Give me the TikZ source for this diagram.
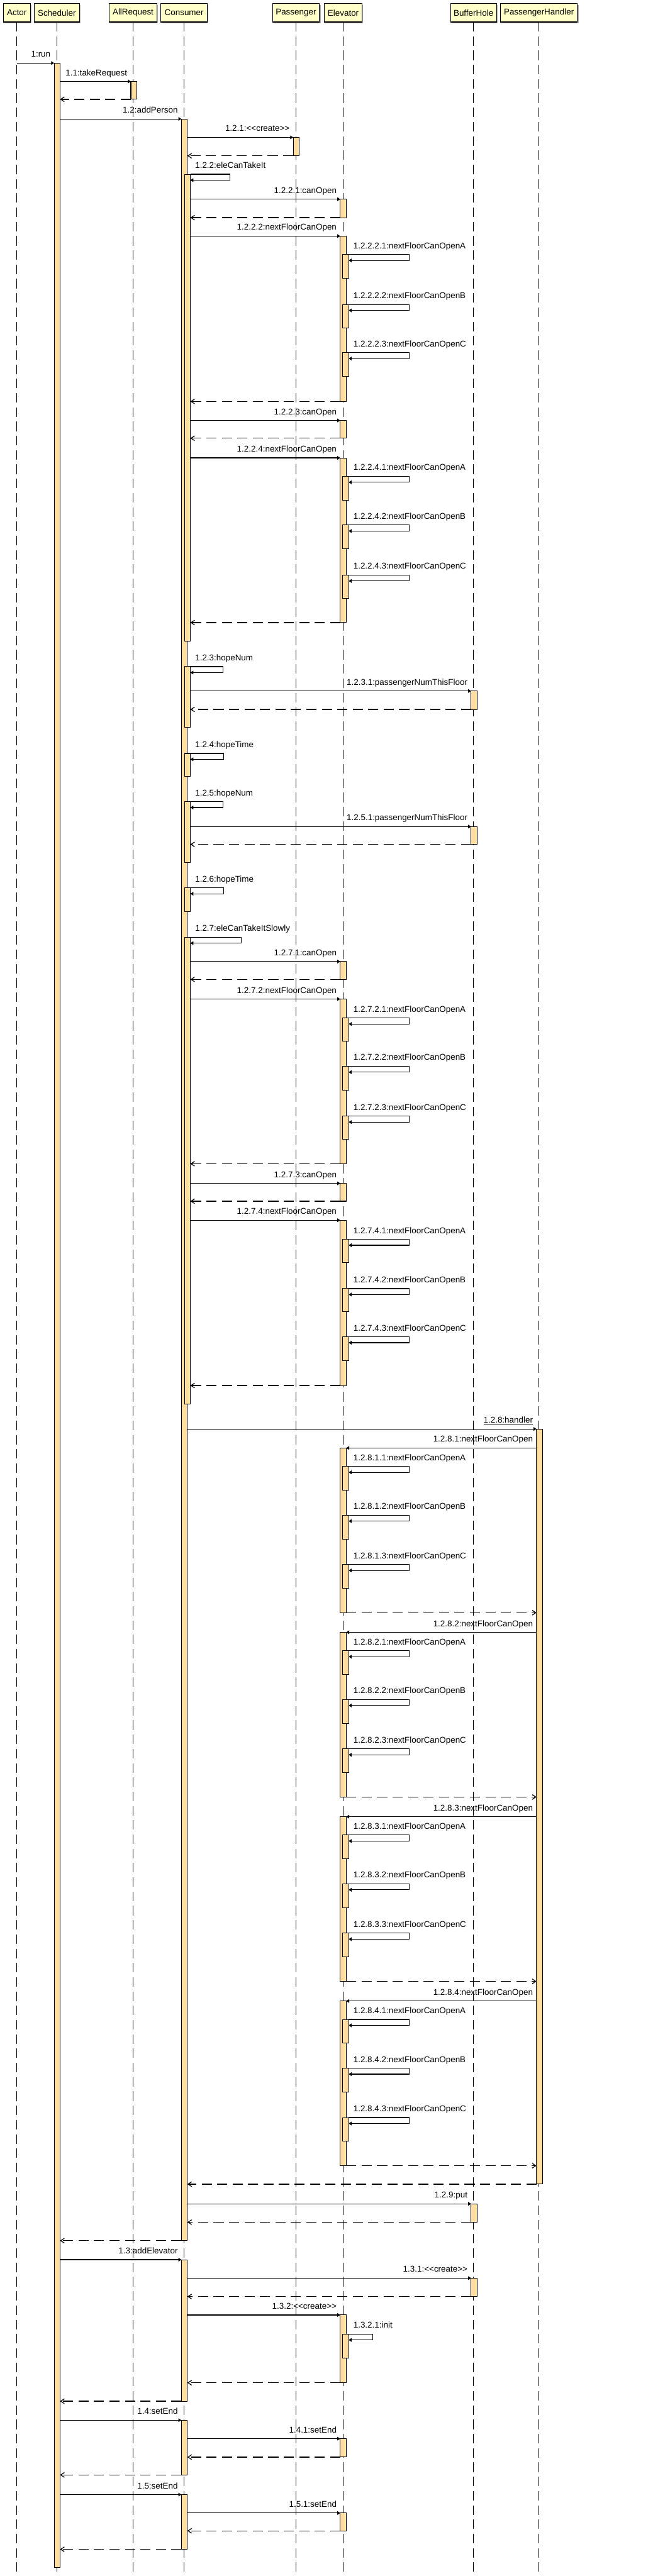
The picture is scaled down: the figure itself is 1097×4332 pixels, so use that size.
\documentclass[tikz,border=0pt]{standalone}
\usepackage{fontspec}
\setmainfont{Liberation Sans}
\usetikzlibrary{arrows.meta,calc,shadows}
\definecolor{headfill}{RGB}{255,255,200}
\definecolor{actfill}{RGB}{255,222,160}
\tikzset{
 head/.style={draw=black, line width=1.1pt, fill=headfill, minimum height=31pt, inner sep=0pt, outer sep=0pt,
   font=\fontsize{14.2}{16}\selectfont, drop shadow={shadow xshift=2pt,shadow yshift=-2pt,fill=black!60,opacity=0.5}},
 life/.style={draw=black, line width=1.2pt, dash pattern=on 16pt off 8pt},
 actbox/.style={draw=black, line width=1.1pt, fill=actfill, minimum width=10pt, inner sep=0pt, outer sep=0pt},
 msg/.style={draw=black, line width=1.2pt, -{Triangle[length=5pt,width=6pt]}},
 rt/.style={draw=black, line width=1.3pt, dash pattern=on 17pt off 9pt, -{Straight Barb[length=6pt,width=8pt]}},
 lbl/.style={inner sep=0pt, anchor=base east, font=\fontsize{14.2}{16}\selectfont},
}
\newcommand\actv[4]{\node[actbox, minimum height={#4-#3}, anchor=north west] (#1) at (#2,#3) {};}
\newcommand\callr[3]{%
 \draw[msg] (#1.east |- #2.north west) -- (#2.north west);
 \node[lbl] (#2-l) at ([shift={(-6pt,10pt)}]#2.north west) {#3};}
\newcommand\retr[2]{\draw[rt] (#2.south west) -- (#1.east |- #2.south west);}
\newcommand\calll[3]{%
 \draw[msg] (#1.west |- #2.north east) -- (#2.north east);
 \coordinate (#2-s) at (#1.west |- #2.north east);
 \node[lbl] (#2-l) at ([shift={(-6pt,10pt)}]#2-s) {#3};}
\newcommand\retl[2]{\draw[rt] (#2.south east) -- (#1.west |- #2.south east);}
\newcommand\selfm[3]{%
 \draw[msg] (#1.north east) -- ++(#2pt,0pt) -- ++(0pt,-10pt) -- ([yshift=-10pt]#1.north east);
 \node[lbl, anchor=base west] (#1-l) at ([shift={(8pt,10pt)}]#1.north east) {#3};}
\newcommand\crt{<\kern0pt<create>\kern0pt>}
\begin{document}
\begin{tikzpicture}[x=1pt,y=-1pt]
\useasboundingbox (0,0) rectangle (1097,4332);
\coordinate (bot) at (0,4330);
% heads
\node[head, minimum width=45pt] (Actor) at (28.3,21.5) {Actor};
\node[head, minimum width=76pt] (Sched) at (95.5,21.5) {Scheduler};
\node[head, minimum width=80pt] (AllReq) at (223.7,21.5) {AllRequest};
\node[head, minimum width=78pt] (Cons) at (309.5,21.5) {Consumer};
\node[head, minimum width=79pt] (Pass) at (497.5,21.5) {Passenger};
\node[head, minimum width=63pt] (Elev) at (577,21.5) {Elevator};
\node[head, minimum width=77pt] (Buf) at (796,21.5) {BufferHole};
\node[head, minimum width=129pt] (PH) at (906,21.5) {PassengerHandler};
% lifelines
\foreach \n in {Actor,Sched,AllReq,Cons,Pass,Elev,Buf,PH}{\draw[life] (\n.south) -- (\n.south |- bot);}
% messages
\actv{sch}{91}{106}{4318}
\draw[msg] (Actor.south |- sch.north west) -- (sch.north west);
\node[lbl] (sch-l) at ([shift={(-6pt,10pt)}]sch.north west) {1:run};
\actv{ar1}{220}{137}{167}\callr{sch}{ar1}{1.1:takeRequest}\retr{sch}{ar1}
\actv{c1}{305}{200}{3768}\callr{sch}{c1}{1.2:addPerson}
\actv{p1}{493}{231}{262}\callr{c1}{p1}{1.2.1:\crt}\retr{c1}{p1}
\actv{c2}{310}{293}{1078}\selfm{c2}{67}{1.2.2:eleCanTakeIt}
\actv{e1}{572}{335}{366}\callr{c2}{e1}{1.2.2.1:canOpen}\retr{c2}{e1}
\actv{e2}{572}{397}{675}\callr{c2}{e2}{1.2.2.2:nextFloorCanOpen}
\actv{e2a}{576}{428}{468}\selfm{e2a}{102}{1.2.2.2.1:nextFloorCanOpenA}
\actv{e2b}{576}{512}{552}\selfm{e2b}{102}{1.2.2.2.2:nextFloorCanOpenB}
\actv{e2c}{576}{593}{633}\selfm{e2c}{102}{1.2.2.2.3:nextFloorCanOpenC}
\retr{c2}{e2}
\actv{e3}{572}{707}{737}\callr{c2}{e3}{1.2.2.3:canOpen}\retr{c2}{e3}
\actv{e4}{572}{770}{1047}\callr{c2}{e4}{1.2.2.4:nextFloorCanOpen}
\actv{e4a}{576}{801}{841}\selfm{e4a}{102}{1.2.2.4.1:nextFloorCanOpenA}
\actv{e4b}{576}{883}{923}\selfm{e4b}{102}{1.2.2.4.2:nextFloorCanOpenB}
\actv{e4c}{576}{967}{1006}\selfm{e4c}{102}{1.2.2.4.3:nextFloorCanOpenC}
\retr{c2}{e4}
\actv{c3}{310}{1121}{1223}\selfm{c3}{55}{1.2.3:hopeNum}
\actv{b1}{792}{1162}{1193}\callr{c3}{b1}{1.2.3.1:passengerNumThisFloor}\retr{c3}{b1}
\actv{c4}{310}{1267}{1306}\selfm{c4}{56}{1.2.4:hopeTime}
\actv{c5}{310}{1348}{1451}\selfm{c5}{55}{1.2.5:hopeNum}
\actv{b2}{792}{1390}{1420}\callr{c5}{b2}{1.2.5.1:passengerNumThisFloor}\retr{c5}{b2}
\actv{c6}{310}{1493}{1533}\selfm{c6}{56}{1.2.6:hopeTime}
\actv{c7}{310}{1576}{2361}\selfm{c7}{86}{1.2.7:eleCanTakeItSlowly}
\actv{e5}{572}{1617}{1647}\callr{c7}{e5}{1.2.7.1:canOpen}\retr{c7}{e5}
\actv{e6}{572}{1680}{1957}\callr{c7}{e6}{1.2.7.2:nextFloorCanOpen}
\actv{e6a}{576}{1712}{1751}\selfm{e6a}{102}{1.2.7.2.1:nextFloorCanOpenA}
\actv{e6b}{576}{1793}{1833}\selfm{e6b}{102}{1.2.7.2.2:nextFloorCanOpenB}
\actv{e6c}{576}{1877}{1916}\selfm{e6c}{102}{1.2.7.2.3:nextFloorCanOpenC}
\retr{c7}{e6}
\actv{e7}{572}{1990}{2020}\callr{c7}{e7}{1.2.7.3:canOpen}\retr{c7}{e7}
\actv{e8}{572}{2052}{2330}\callr{c7}{e8}{1.2.7.4:nextFloorCanOpen}
\actv{e8a}{576}{2084}{2123}\selfm{e8a}{102}{1.2.7.4.1:nextFloorCanOpenA}
\actv{e8b}{576}{2167}{2206}\selfm{e8b}{102}{1.2.7.4.2:nextFloorCanOpenB}
\actv{e8c}{576}{2248}{2288}\selfm{e8c}{102}{1.2.7.4.3:nextFloorCanOpenC}
\retr{c7}{e8}
\actv{h1}{902}{2403}{3673}\callr{c1}{h1}{\underline{1.2.8:handler}}
\actv{e9}{572}{2435}{2712}\calll{h1}{e9}{1.2.8.1:nextFloorCanOpen}
\actv{e9a}{576}{2466}{2506}\selfm{e9a}{102}{1.2.8.1.1:nextFloorCanOpenA}
\actv{e9b}{576}{2548}{2588}\selfm{e9b}{102}{1.2.8.1.2:nextFloorCanOpenB}
\actv{e9c}{576}{2631}{2671}\selfm{e9c}{102}{1.2.8.1.3:nextFloorCanOpenC}
\retl{h1}{e9}
\actv{e10}{572}{2745}{3022}\calll{h1}{e10}{1.2.8.2:nextFloorCanOpen}
\actv{e10a}{576}{2776}{2816}\selfm{e10a}{102}{1.2.8.2.1:nextFloorCanOpenA}
\actv{e10b}{576}{2858}{2898}\selfm{e10b}{102}{1.2.8.2.2:nextFloorCanOpenB}
\actv{e10c}{576}{2941}{2981}\selfm{e10c}{102}{1.2.8.2.3:nextFloorCanOpenC}
\retl{h1}{e10}
\actv{e11}{572}{3055}{3332}\calll{h1}{e11}{1.2.8.3:nextFloorCanOpen}
\actv{e11a}{576}{3086}{3126}\selfm{e11a}{102}{1.2.8.3.1:nextFloorCanOpenA}
\actv{e11b}{576}{3168}{3208}\selfm{e11b}{102}{1.2.8.3.2:nextFloorCanOpenB}
\actv{e11c}{576}{3251}{3291}\selfm{e11c}{102}{1.2.8.3.3:nextFloorCanOpenC}
\retl{h1}{e11}
\actv{e12}{572}{3365}{3642}\calll{h1}{e12}{1.2.8.4:nextFloorCanOpen}
\actv{e12a}{576}{3396}{3436}\selfm{e12a}{102}{1.2.8.4.1:nextFloorCanOpenA}
\actv{e12b}{576}{3478}{3518}\selfm{e12b}{102}{1.2.8.4.2:nextFloorCanOpenB}
\actv{e12c}{576}{3561}{3601}\selfm{e12c}{102}{1.2.8.4.3:nextFloorCanOpenC}
\retl{h1}{e12}
\retr{c1}{h1}
\actv{b3}{792}{3706}{3737}\callr{c1}{b3}{1.2.9:put}\retr{c1}{b3}
\retr{sch}{c1}
\actv{c8}{305}{3800}{4038}\callr{sch}{c8}{1.3:addElevator}
\actv{b4}{792}{3831}{3862}\callr{c8}{b4}{1.3.1:\crt}\retr{c8}{b4}
\actv{e13}{572}{3893}{4007}\callr{c8}{e13}{1.3.2:\crt}
\actv{e13a}{576}{3925}{3965}\selfm{e13a}{41}{1.3.2.1:init}
\retr{c8}{e13}
\retr{sch}{c8}
\actv{c9}{305}{4070}{4162}\callr{sch}{c9}{1.4:setEnd}
\actv{e14}{572}{4101}{4132}\callr{c9}{e14}{1.4.1:setEnd}\retr{c9}{e14}
\retr{sch}{c9}
\actv{c10}{305}{4195}{4287}\callr{sch}{c10}{1.5:setEnd}
\actv{e15}{572}{4226}{4256}\callr{c10}{e15}{1.5.1:setEnd}\retr{c10}{e15}
\retr{sch}{c10}
\end{tikzpicture}
\end{document}
